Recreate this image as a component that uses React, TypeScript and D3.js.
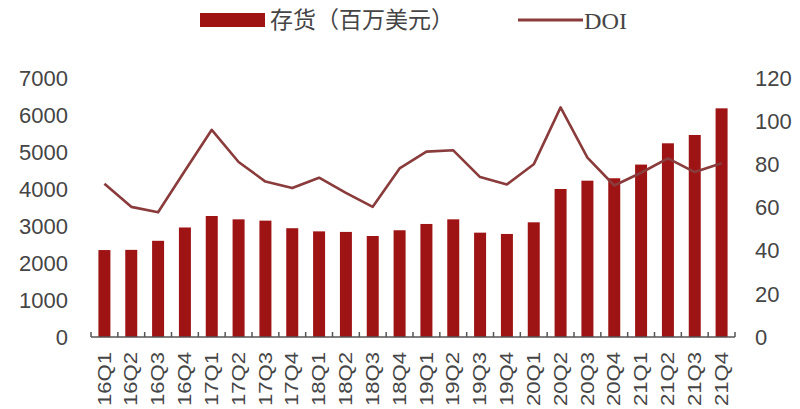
import React from "react";
import * as d3 from "d3";

const categories = [
  "16Q1","16Q2","16Q3","16Q4","17Q1","17Q2","17Q3","17Q4",
  "18Q1","18Q2","18Q3","18Q4","19Q1","19Q2","19Q3","19Q4",
  "20Q1","20Q2","20Q3","20Q4","21Q1","21Q2","21Q3","21Q4",
];
const inventory = [
  2350, 2355, 2600, 2960, 3270, 3180, 3145, 2940,
  2855, 2840, 2730, 2885, 3055, 3180, 2820, 2785,
  3100, 4000, 4225, 4290, 4660, 5235, 5460, 6180,
];
const doi = [
  71.0, 60.3, 57.8, 77.0, 96.0, 81.1, 72.0, 69.0,
  73.8, 66.8, 60.3, 78.1, 85.9, 86.5, 74.1, 70.7,
  80.0, 106.4, 83.1, 70.2, 76.1, 82.8, 76.4, 80.5,
];
const leftTicks = [0, 1000, 2000, 3000, 4000, 5000, 6000, 7000];
const rightTicks = [0, 20, 40, 60, 80, 100, 120];
const legendBar = "存货（百万美元）";
const legendLine = "DOI";

const W = 800, H = 409;
const X0 = 91, X1 = 735, Y0 = 337, YT = 78;
const BAR = "#9E1414";
const LINE = "#8A3B3B";
const TXT = "#454545";
const AX = "#555555";

export default function App() {
  const x = d3.scaleBand<string>().domain(categories).range([X0, X1]).paddingInner(0.553).paddingOuter(0.2765);
  const band = (X1 - X0) / categories.length;
  const yL = d3.scaleLinear().domain([0, 7000]).range([Y0, YT]);
  const yR = d3.scaleLinear().domain([0, 120]).range([Y0, YT]);
  const cx = (c: string) => (x(c) as number) + x.bandwidth() / 2;
  const line = d3.line<number>().x((_, i) => cx(categories[i])).y((d) => yR(d));
  const tickXs = d3.range(categories.length + 1).map((i) => X0 + i * band);

  return (
    <svg width={W} height={H} style={{ position: "absolute", left: 0, top: 0, background: "#fff" }}
      fontFamily="Arial, 'Liberation Sans', sans-serif">
      {/* legend */}
      <rect x={200} y={13} width={65} height={14} fill={BAR} />
      <text x={270} y={20} dy="0.36em" fontSize={23} fill={TXT} fontFamily="'Noto Sans CJK SC'">{legendBar}</text>
      <line x1={518} x2={583} y1={20} y2={20} stroke={LINE} strokeWidth={3} />
      <text x={584} y={21} dy="0.35em" fontSize={24} fill={TXT} fontFamily="'Liberation Serif', serif" textLength={43} lengthAdjust="spacingAndGlyphs">{legendLine}</text>

      {/* bars */}
      {inventory.map((v, i) => (
        <rect key={i} x={x(categories[i])} y={yL(v)} width={x.bandwidth()} height={Y0 - yL(v)} fill={BAR} />
      ))}

      {/* line */}
      <path d={line(doi) || ""} fill="none" stroke={LINE} strokeWidth={2.6} strokeLinejoin="round" />

      {/* x axis */}
      <line x1={X0} x2={X1} y1={Y0} y2={Y0} stroke={AX} strokeWidth={1.5} />
      {tickXs.map((tx, i) => (
        <line key={i} x1={tx} x2={tx} y1={Y0} y2={Y0 - 5} stroke={AX} strokeWidth={1.5} />
      ))}

      {/* left axis labels */}
      {leftTicks.map((t) => (
        <text key={t} x={68} y={yL(t)} dy="0.35em" textAnchor="end" fontSize={22} fill={TXT}>{t}</text>
      ))}
      {/* right axis labels */}
      {rightTicks.map((t) => (
        <text key={t} x={755} y={yR(t)} dy="0.35em" textAnchor="start" fontSize={22} fill={TXT}>{t}</text>
      ))}
      {/* x labels */}
      {categories.map((c) => (
        <text key={c} transform={`translate(${cx(c)},352) rotate(-90)`} dy="0.35em" textAnchor="end" fontSize={17.5} fill={TXT}
          textLength={54} lengthAdjust="spacingAndGlyphs">{c}</text>
      ))}
    </svg>
  );
}
